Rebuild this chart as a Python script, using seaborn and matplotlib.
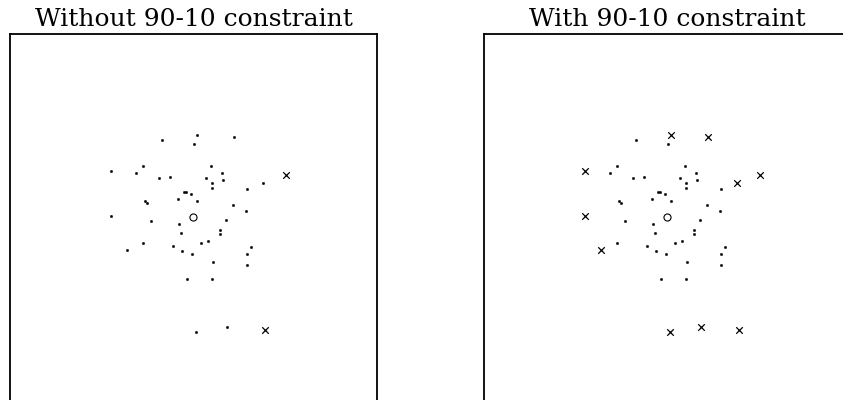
import pandas as pd
import seaborn as sns
import matplotlib

matplotlib.use("Agg")
import matplotlib.pyplot as plt

# 点的坐标（以查询点为原点）
pt_x = [-1.73, 0.17, 0.01, 2.21, -4.50, -3.15, -2.74, -1.90, -1.26, 0.95,
        0.68, 1.02, 1.01, 1.57, 1.61, 3.80, 2.92, 5.04, -0.52, -0.39,
        -0.12, -0.83, 0.21, -2.64, -2.53, -4.51, -2.30, -0.79, 2.14, 2.84,
        1.77, 1.46, 1.44, -0.68, -2.77, -3.61, -1.10, -0.61, -0.10, 0.39,
        0.81, 3.13, 2.90, 2.90, 1.06, -0.34, 1.02, 0.12, 1.84, 3.88]
pt_y = [4.22, 4.48, 4.01, 4.37, 2.55, 2.44, 2.79, 2.14, 2.21, 2.79,
        2.17, 1.88, 1.59, 2.43, 2.03, 1.86, 1.54, 2.30, 1.39, 1.39,
        1.26, 1.02, 0.88, 0.90, 0.79, 0.08, -0.17, -0.35, 0.66, 0.37,
        -0.14, -0.68, -0.92, -0.83, -1.37, -1.75, -1.54, -1.83, -2.01, -1.41,
        -1.28, -1.61, -1.97, -2.57, -2.44, -3.37, -3.35, -6.24, -5.95, -6.13]

# 每个面板中被标记为 x 的点的序号
excluded_without = [17, 49]
excluded_with = [1, 3, 4, 15, 17, 25, 35, 47, 48, 49]

query_x = [0.0]
query_y = [0.0]

titles = ["Without 90-10 constraint", "With 90-10 constraint"]
lim = 10.0

sns.set_style("white")
plt.rcParams["font.family"] = ["DejaVu Serif"]

fig = plt.figure(figsize=(8.43, 4.0), dpi=100)
ax_left = fig.add_axes([10 / 843, -0.0025, 367 / 843, 0.9175])
ax_right = fig.add_axes([484 / 843, -0.0025, 367 / 843, 0.9175])

df = pd.DataFrame({"x": pt_x, "y": pt_y})

for ax, excl, title in zip([ax_left, ax_right], [excluded_without, excluded_with], titles):
    mask = df.index.isin(excl)
    sns.scatterplot(data=df[~mask], x="x", y="y", ax=ax, marker="o", s=3,
                    color="black", edgecolor="black", linewidth=0.3)
    sns.scatterplot(data=df[mask], x="x", y="y", ax=ax, marker="x", s=22,
                    color="black", linewidth=0.9)
    ax.scatter(query_x, query_y, s=26, facecolor="none", edgecolor="black", linewidth=0.8)
    ax.set_xlim(-lim, lim)
    ax.set_ylim(-lim, lim)
    ax.set_xticks([])
    ax.set_yticks([])
    ax.set_xlabel("")
    ax.set_ylabel("")
    for sp in ax.spines.values():
        sp.set_color("black")
        sp.set_linewidth(1.3)
    ax.set_title(title, fontsize=18, pad=5.8, color="black")

fig.savefig("out.png", dpi=100)
plt.close(fig)
